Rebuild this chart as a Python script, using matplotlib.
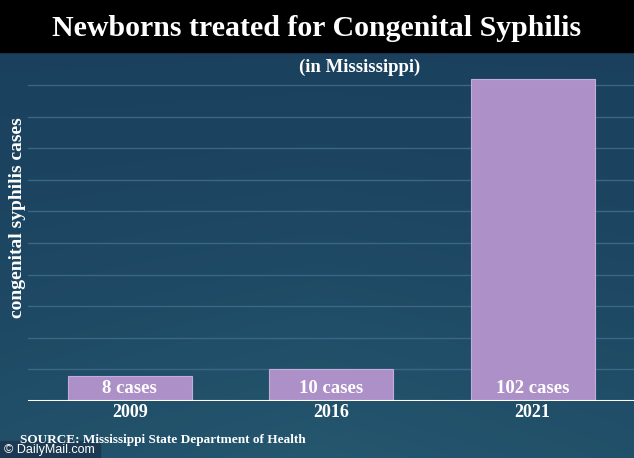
import matplotlib
matplotlib.use("Agg")
import matplotlib.pyplot as plt
import numpy as np

# Data
years = ["2009", "2016", "2021"]
cases = [8, 10, 102]
labels = ["8 cases", "10 cases", "102 cases"]
grid_values = [10, 20, 30, 40, 50, 60, 70, 80, 90, 100]

W, H = 634, 458
fig = plt.figure(figsize=(W / 100, H / 100), dpi=100)

# background gradient
bg = fig.add_axes([0, 0, 1, 1])
yy, xx = np.mgrid[0:1:200j, 0:1:300j]
top = np.array([0x1a, 0x40, 0x5d]) / 255
bot = np.array([0x25, 0x57, 0x6f]) / 255
t = np.clip(yy ** 1.5 * (1 - 0.6 * np.abs(xx - 0.5)), 0, 1)[..., None]
img = top * (1 - t) + bot * t
bg.imshow(img, aspect="auto", extent=[0, 1, 0, 1], origin="upper")
bg.set_xlim(0, 1)
bg.set_ylim(0, 1)
bg.axis("off")

# black title band
bg.add_patch(plt.Rectangle((0, 1 - 52 / H), 1, 52 / H, color="black", zorder=3))

serif = ["Liberation Serif", "DejaVu Serif"]

fig.text(0.5, 1 - 28 / H, "Newborns treated for Congenital Syphilis", color="white",
         fontsize=21.5, fontweight="bold", family=serif, ha="center", va="center", zorder=5)
fig.text(360 / W, 1 - 67 / H, "(in Mississippi)", color="white", fontsize=13.5,
         fontweight="bold", family=serif, ha="center", va="center")
fig.text(18 / W, 1 - 218 / H, "congenital syphilis cases", color="white", fontsize=14,
         fontweight="bold", family=serif, rotation=90, ha="center", va="center")
fig.text(20 / W, 1 - 440 / H, "SOURCE: Mississippi State Department of Health", color="white",
         fontsize=9.5, fontweight="bold", family=serif, ha="left", va="center", zorder=6)

# copyright box
bg.add_patch(plt.Rectangle((0, 0), 100 / W, 17 / H, color="#1b3a52", zorder=3))
fig.text(4 / W, 1 - 450 / H, "© DailyMail.com", color="white", fontsize=9,
         family=["Liberation Sans", "DejaVu Sans"], ha="left", va="center", zorder=7)

# main axes
ax = fig.add_axes([28 / W, (H - 401) / H, (W - 28) / W, (401 - 55) / H])
ax.patch.set_alpha(0)
x = np.arange(len(years))
ax.bar(x, cases, width=0.615, color="#ae90c9", edgecolor="#c3aedb", linewidth=0.8, zorder=3)
for v in grid_values:
    ax.axhline(v, color="#3b6684", linewidth=1.0, zorder=1)
ax.axhline(0, color="white", linewidth=1.5, zorder=4)
ax.set_xlim(-0.505, 2.503)
ax.set_ylim(0, 109.5)
for xi, lab in zip(x, labels):
    ax.text(xi, 3.9, lab, color="white", fontsize=13.5, fontweight="bold", family=serif,
            ha="center", va="center", zorder=5)
ax.set_xticks(x)
ax.set_xticklabels(years, color="white", fontsize=13, fontweight="bold", family=serif)
ax.tick_params(axis="x", length=0, pad=2)
ax.set_yticks([])
for s in ax.spines.values():
    s.set_visible(False)

fig.savefig("out.png", dpi=100)
